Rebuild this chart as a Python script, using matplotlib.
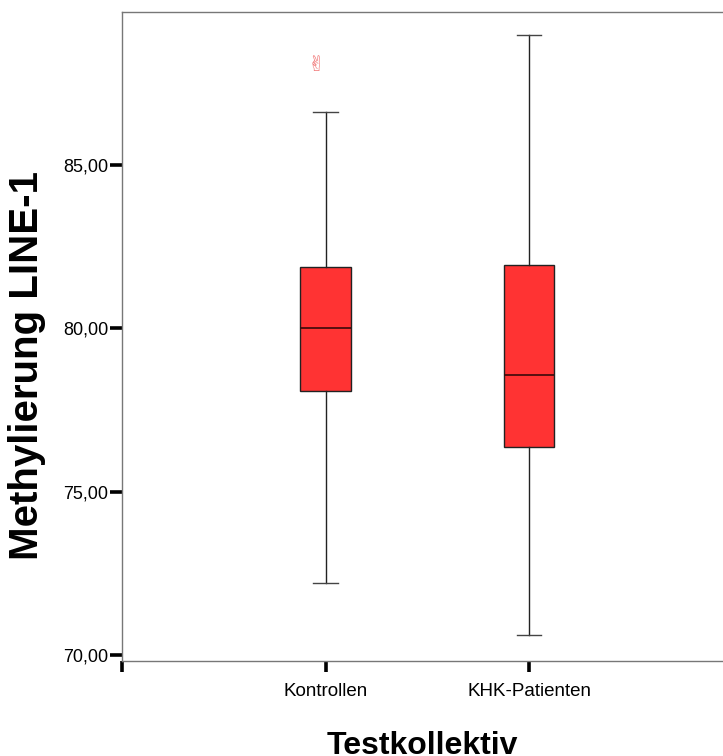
import matplotlib
matplotlib.use("Agg")
import matplotlib.pyplot as plt

plt.rcParams['font.family'] = ['Liberation Sans', 'DejaVu Sans']

# Testkollektiv groups and their box statistics (Methylierung LINE-1, %)
gruppen = ["Kontrollen", "KHK-Patienten"]
whisker_lo = [72.2, 70.6]
q1 = [78.07, 76.36]
median = [80.0, 78.56]
q3 = [81.88, 81.93]
whisker_hi = [86.62, 88.99]
ausreisser = [[88.07], []]

stats = []
for i, name in enumerate(gruppen):
    stats.append(dict(label=name, whislo=whisker_lo[i], q1=q1[i], med=median[i],
                      q3=q3[i], whishi=whisker_hi[i], fliers=[]))

fig = plt.figure(figsize=(7.23, 7.56), dpi=100)
ax = fig.add_axes([0.1687, 0.1257, 0.8313, 0.8578])

pos = [1, 2]
ax.bxp(stats, positions=pos, widths=0.25, patch_artist=True, showfliers=False,
       boxprops=dict(facecolor='#ff3333', edgecolor='#222222', linewidth=1.0),
       medianprops=dict(color='#3a0a0a', linewidth=1.2),
       whiskerprops=dict(color='#222222', linewidth=1.0),
       capprops=dict(color='#444444', linewidth=1.0),
       capwidths=0.12)

# outliers shown with the SPSS-style glyph
for p, werte in zip(pos, ausreisser):
    for w in werte:
        ax.text(p - 0.045, w, "\u270C", color='#f07070', fontsize=15,
                ha='center', va='center', family=['DejaVu Sans', 'Noto Sans CJK JP'])

ax.set_xlim(0, 2.953)
ax.set_ylim(69.82, 89.67)

ax.set_yticks([70, 75, 80, 85])
ax.set_yticklabels(["70,00", "75,00", "80,00", "85,00"])
ax.set_xticks([0, 1, 2])
ax.set_xticklabels(["", gruppen[0], gruppen[1]])

ax.tick_params(axis='y', direction='out', length=9, width=2.6, color='black',
               labelsize=13, pad=1)
ax.tick_params(axis='x', direction='out', length=8, width=2.6, color='black',
               labelsize=13.5, pad=8)

for side in ['left', 'top', 'bottom']:
    ax.spines[side].set_color('#777777')
    ax.spines[side].set_linewidth(1.0)
ax.spines['right'].set_visible(False)

ax.set_ylabel("Methylierung LINE-1", fontsize=29, fontweight='bold')
ax.yaxis.set_label_coords(-0.126, 0.456)
ax.set_xlabel("Testkollektiv", fontsize=23, fontweight='bold')
ax.xaxis.set_label_coords(0.5, -0.108)

fig.savefig("out.png", dpi=100)
